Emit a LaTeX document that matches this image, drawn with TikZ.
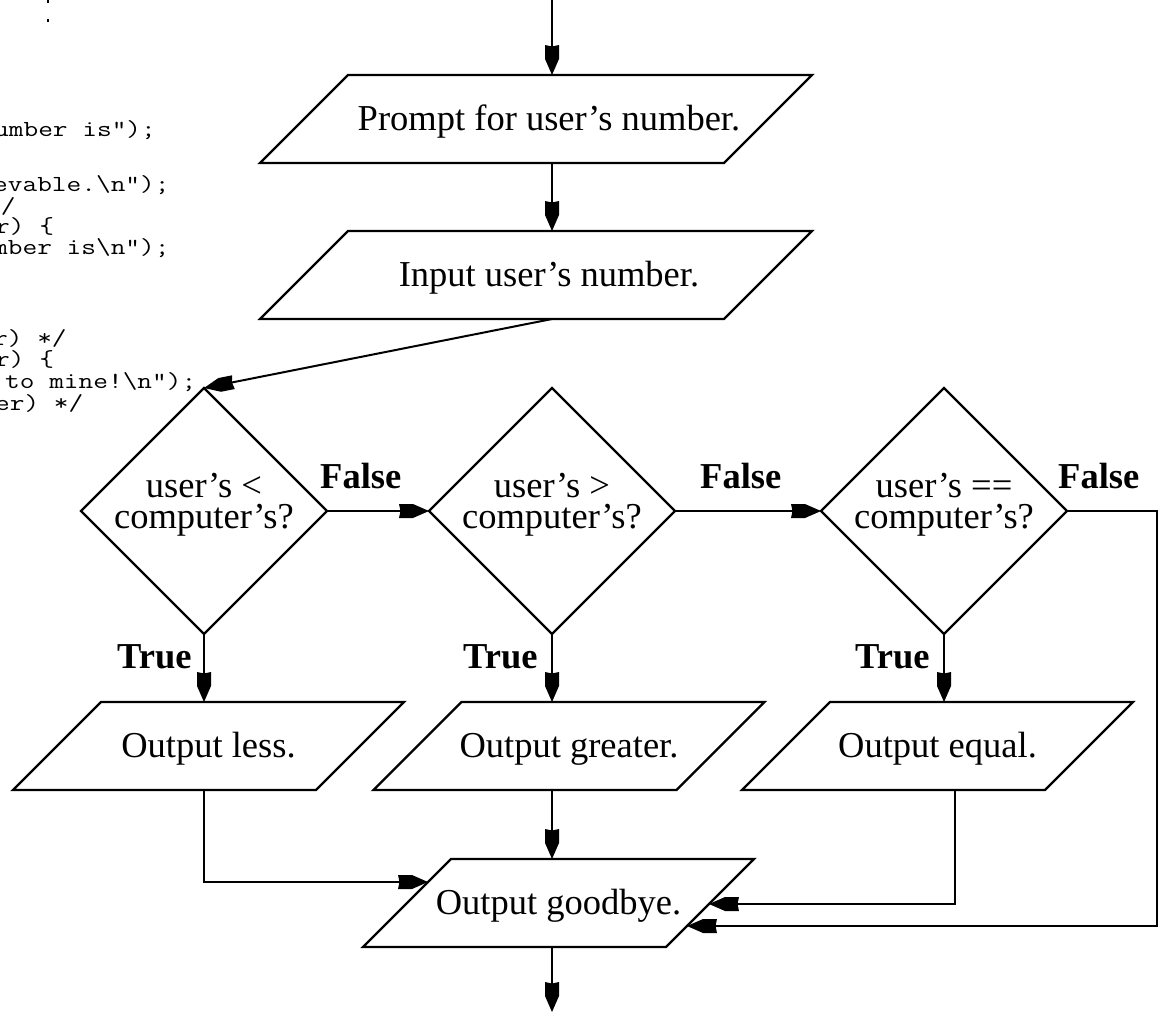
\documentclass[tikz,border=0pt]{standalone}
\usepackage{fontspec}
\setmainfont{Liberation Serif}
\usetikzlibrary{shapes.geometric,calc,arrows.meta}
\pgfdeclarearrow{
  name = DiaTip,
  setup code = {
    \pgfarrowssettipend{0pt}
    \pgfarrowssetlineend{-14pt}
    \pgfarrowssetvisualbackend{-30pt}
    \pgfarrowssetbackend{-30pt}
    \pgfarrowshullpoint{0pt}{0pt}
    \pgfarrowsupperhullpoint{-30pt}{7pt}
  },
  drawing code = {
    \pgfpathmoveto{\pgfqpoint{0pt}{0pt}}
    \pgfpathlineto{\pgfqpoint{-16pt}{7pt}}
    \pgfpathlineto{\pgfqpoint{-30pt}{7pt}}
    \pgfpathlineto{\pgfqpoint{-28.5pt}{0pt}}
    \pgfpathlineto{\pgfqpoint{-30pt}{-7pt}}
    \pgfpathlineto{\pgfqpoint{-16pt}{-7pt}}
    \pgfpathclose
    \pgfusepathqfill
  }
}
\begin{document}
\begin{tikzpicture}[x=1pt,y=-1pt,
  shp/.style={line width=2.2pt, line join=miter},
  conn/.style={line width=2pt, -{DiaTip}},
  pgm/.style={rectangle, draw=none, outer sep=0pt, inner sep=0pt, minimum height=88pt,
    text height=25pt, text depth=3pt, font=\fontsize{36.5}{40}\selectfont},
  dmd/.style={diamond, draw, line width=2.2pt, minimum width=246pt, minimum height=246pt,
    inner sep=0pt, outer sep=0pt},
  txt/.style={font=\fontsize{36.5}{40}\selectfont, inner sep=0pt, anchor=base},
  bl/.style={font=\bfseries\fontsize{36.5}{40}\selectfont, inner sep=0pt, anchor=base west},
  code/.style={font=\ttfamily\fontsize{23}{23}\selectfont, inner sep=0pt, anchor=base west,
    xscale=1.24, transform shape},
]
\useasboundingbox (0,0) rectangle (1161,1013);
\fill[white] (0,0) rectangle (1161,1013);

% clipped code listing in the background
\begin{scope}
\clip (0,0) rectangle (1161,1013);
\fill (47,0) rectangle (49,3);
\fill (47,19) rectangle (49,22);
\node[code] (c1) at (-6,136) {umber is");};
\node[code] (c2) at (-7,191) {evable.\textbackslash n");};
\node[code] (c3) at (-14,213) {*/};
\node[code] (c4) at (-5,233) {r) \{};
\node[code] (c5) at (-7,254) {mber is\textbackslash n");};
\node[code] (c6) at (-7,345) {r) */};
\node[code] (c7) at (-5,366) {r) \{};
\node[code] (c8) at (5,388) {to mine!\textbackslash n");};
\node[code] (c9) at (-5,410) {er) */};
\end{scope}

% parallelograms
\node[pgm, minimum width=464pt] (p1) at (536,119) {};
\node[pgm, minimum width=464pt] (p2) at (536,275) {};
\node[txt] (p1t) at (549,130) {Prompt for user’s number.};
\node[txt] (p2t) at (549,286) {Input user’s number.};
\node[pgm, minimum width=303pt] (ol) at (208.5,746) {Output less.};
\node[pgm, minimum width=303pt] (og) at (569,746) {Output greater.};
\node[pgm, minimum width=303pt] (oe) at (937.5,746) {Output equal.};
\node[pgm, minimum width=303pt] (gb) at (558.5,903) {Output goodbye.};
\foreach \n in {p1,p2,ol,og,oe,gb}
  \draw[shp] ($(\n.north west)+(44,0)$) -- ($(\n.north east)+(44,0)$)
     -- ($(\n.south east)+(-44,0)$) -- ($(\n.south west)+(-44,0)$) -- cycle;

% decisions
\node[dmd] (d1) at (204,511) {};
\node[dmd] (d2) at (552,511) {};
\node[dmd] (d3) at (944,511) {};
\node[txt] (d1a) at (204,497) {user’s <};
\node[txt] (d1b) at (204,528) {computer’s?};
\node[txt] (d2a) at (552,497) {user’s >};
\node[txt] (d2b) at (552,528) {computer’s?};
\node[txt] (d3a) at (944,497) {user’s ==};
\node[txt] (d3b) at (944,528) {computer’s?};

% labels
\node[bl] (f1) at (320,488) {False};
\node[bl] (f2) at (700,488) {False};
\node[bl] (f3) at (1058,488) {False};
\node[bl] (t1) at (117,668) {True};
\node[bl] (t2) at (463,668) {True};
\node[bl] (t3) at (855,668) {True};

% connectors
\coordinate (top) at (552,0);
\coordinate (bot) at (552,1012);
\draw[conn] (top) -- (top |- p1.north);
\draw[conn] (top |- p1.south) -- (top |- p2.north);
\draw[conn] (top |- p2.south) -- (d1.north);
\draw[conn] (d1.east) -- (d2.west);
\draw[conn] (d2.east) -- (d3.west);
\draw[conn] (d1.south) -- (d1.south |- ol.north);
\draw[conn] (d2.south) -- (d2.south |- og.north);
\draw[conn] (d3.south) -- (d3.south |- oe.north);
\draw[conn] (d1.south |- ol.south) |- ($(gb.west)+(21,-21)$);
\draw[conn] ($(oe.south)+(17.5,0)$) |- ($(gb.east)+(-1,1)$);
\draw[conn] (d3.east) -- ++(90,0) |- ($(gb.east)+(-23,23)$);
\draw[conn] (d2.south |- og.south) -- (d2.south |- gb.north);
\draw[conn] (d2.south |- gb.south) -- (bot);
\end{tikzpicture}
\end{document}
